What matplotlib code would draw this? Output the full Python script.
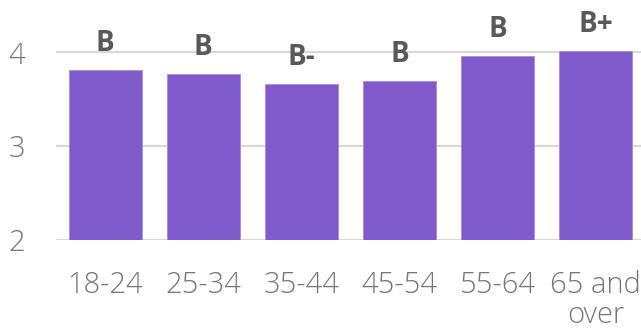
import numpy as np
import matplotlib
matplotlib.use('Agg')
import matplotlib.pyplot as plt

plt.rcParams['font.family'] = ['Open Sans', 'DejaVu Sans']
plt.rcParams['axes.unicode_minus'] = False

age_groups = ["18-24", "25-34", "35-44", "45-54", "55-64", "65 and\nover"]
scores = [3.81, 3.77, 3.66, 3.70, 3.96, 4.02]
grades = ["B", "B", "B-", "B", "B", "B+"]

fig = plt.figure(figsize=(6.41, 3.34), dpi=100)
ax = fig.add_axes([56 / 641, 94 / 334, 585 / 641, 240 / 334])

x = np.arange(len(age_groups))
bars = ax.bar(x, scores, width=0.745, bottom=0, color="#7E5BC8",
              edgecolor="#A58BE0", linewidth=0.6, zorder=3)

# grade letter above each bar
for rect, grade in zip(bars, grades):
    ax.annotate(grade, (rect.get_x() + rect.get_width() / 2, rect.get_height()),
                xytext=(0, 13.7), textcoords="offset points",
                ha="center", va="baseline", fontsize=20, fontweight="bold",
                color="#595959", annotation_clip=False)

ax.set_ylim(2, 4.56)
ax.set_xlim(-0.5, 5.46)
ax.set_yticks([2, 3, 4])
ax.set_xticks(x)
ax.set_xticklabels(age_groups, linespacing=1.02)
ax.tick_params(axis="both", length=0, labelsize=21, labelcolor="#767676")
ax.tick_params(axis="x", pad=22)
ax.tick_params(axis="y", pad=22)
for lbl in ax.get_xticklabels() + ax.get_yticklabels():
    lbl.set_fontweight("light")

ax.grid(axis="y", color="#D9D9D9", linewidth=1.6, zorder=0)
for side in ["top", "right", "left", "bottom"]:
    ax.spines[side].set_visible(False)

fig.savefig("out.png", dpi=100)
